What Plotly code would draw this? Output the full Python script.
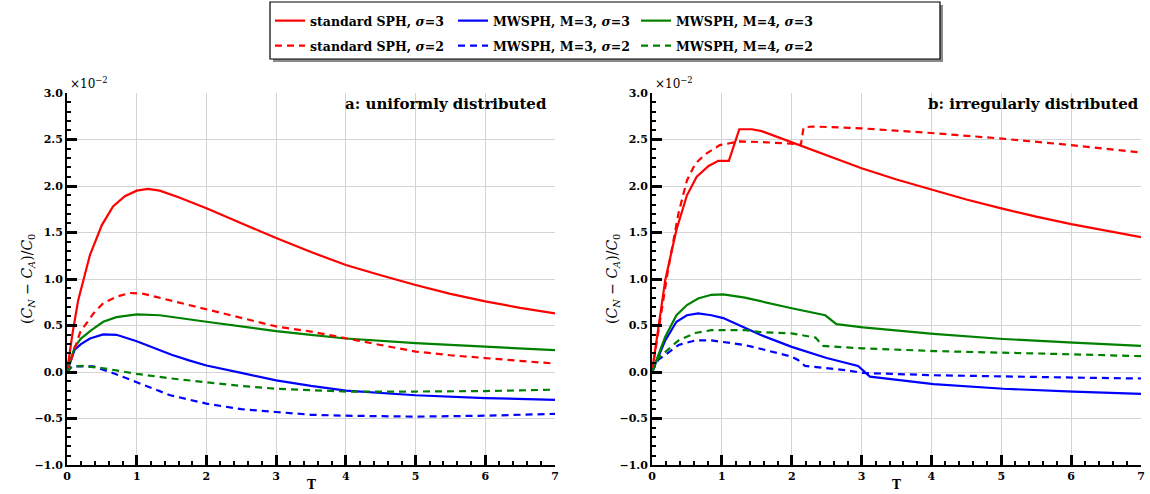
import plotly.graph_objects as go

# ---------------- data (values in units of 1e-2) ----------------
# panel a: uniformly distributed
a_sph3_T = [0, 0.08, 0.16, 0.33, 0.5, 0.66, 0.83, 1.0, 1.16, 1.33, 1.6, 2.0, 2.5, 3.0, 3.5, 4.0, 4.5, 5.0, 5.5, 6.0, 6.5, 7.0]
a_sph3_v = [0, 0.42, 0.77, 1.26, 1.58, 1.78, 1.89, 1.95, 1.97, 1.95, 1.88, 1.76, 1.60, 1.44, 1.29, 1.15, 1.04, 0.935, 0.84, 0.76, 0.69, 0.63]
a_sph2_T = [0, 0.1, 0.19, 0.38, 0.52, 0.71, 0.9, 1.1, 1.48, 2.0, 2.5, 3.0, 3.5, 4.0, 4.5, 5.0, 5.5, 6.0, 6.5, 7.0]
a_sph2_v = [0, 0.24, 0.43, 0.63, 0.74, 0.81, 0.85, 0.84, 0.77, 0.68, 0.58, 0.49, 0.435, 0.36, 0.29, 0.22, 0.18, 0.15, 0.12, 0.09]
a_m3s3_T = [0, 0.11, 0.2, 0.33, 0.52, 0.71, 1.0, 1.25, 1.5, 1.75, 2.0, 2.5, 3.0, 3.5, 4.0, 5.0, 6.0, 7.0]
a_m3s3_v = [0, 0.24, 0.30, 0.36, 0.405, 0.40, 0.33, 0.255, 0.185, 0.125, 0.07, -0.01, -0.09, -0.15, -0.20, -0.25, -0.28, -0.30]
a_m3s2_T = [0, 0.07, 0.38, 0.62, 1.0, 1.48, 2.0, 2.5, 3.0, 3.5, 4.0, 5.0, 6.0, 7.0]
a_m3s2_v = [0, 0.06, 0.06, 0.0, -0.11, -0.25, -0.34, -0.40, -0.43, -0.46, -0.47, -0.48, -0.47, -0.45]
a_m4s3_T = [0, 0.11, 0.2, 0.35, 0.52, 0.71, 1.0, 1.33, 2.0, 2.5, 3.0, 3.5, 4.0, 5.0, 6.0, 7.0]
a_m4s3_v = [0, 0.27, 0.36, 0.45, 0.54, 0.59, 0.62, 0.61, 0.54, 0.49, 0.44, 0.40, 0.36, 0.31, 0.27, 0.235]
a_m4s2_T = [0, 0.07, 0.23, 0.52, 1.0, 1.5, 2.0, 2.5, 3.0, 4.0, 5.0, 6.0, 7.0]
a_m4s2_v = [0, 0.06, 0.065, 0.04, -0.02, -0.07, -0.11, -0.15, -0.18, -0.21, -0.21, -0.205, -0.19]

# panel b: irregularly distributed
b_sph3_T = [0, 0.19, 0.35, 0.5, 0.64, 0.81, 0.95, 1.1, 1.25, 1.43, 1.57, 2.0, 2.5, 3.0, 3.5, 4.0, 4.5, 5.0, 5.5, 6.0, 6.5, 7.0]
b_sph3_v = [0, 0.99, 1.53, 1.90, 2.10, 2.215, 2.27, 2.27, 2.61, 2.61, 2.59, 2.47, 2.33, 2.19, 2.07, 1.96, 1.855, 1.76, 1.67, 1.59, 1.52, 1.45]
b_sph2_T = [0, 0.23, 0.38, 0.5, 0.62, 0.76, 0.97, 1.26, 1.64, 2.09, 2.13, 2.17, 2.3, 3.0, 4.0, 5.0, 6.0, 7.0]
b_sph2_v = [0, 1.10, 1.71, 2.06, 2.24, 2.34, 2.44, 2.48, 2.47, 2.45, 2.44, 2.63, 2.64, 2.62, 2.57, 2.51, 2.44, 2.36]
b_m3s3_T = [0, 0.19, 0.35, 0.5, 0.66, 0.85, 1.02, 1.33, 1.55, 2.0, 2.5, 2.95, 3.12, 4.03, 5.03, 6.03, 7.0]
b_m3s3_v = [0, 0.34, 0.54, 0.61, 0.63, 0.61, 0.58, 0.47, 0.40, 0.27, 0.15, 0.065, -0.05, -0.13, -0.18, -0.21, -0.235]
b_m3s2_T = [0, 0.09, 0.38, 0.62, 0.85, 1.33, 1.55, 2.0, 2.09, 2.19, 2.76, 3.02, 4.03, 5.03, 6.03, 7.0]
b_m3s2_v = [0, 0.13, 0.29, 0.34, 0.34, 0.29, 0.25, 0.165, 0.13, 0.065, 0.02, -0.01, -0.035, -0.05, -0.06, -0.07]
b_m4s3_T = [0, 0.19, 0.35, 0.5, 0.66, 0.85, 1.02, 1.33, 2.0, 2.48, 2.64, 2.76, 3.02, 4.03, 5.03, 6.03, 7.0]
b_m4s3_v = [0, 0.38, 0.61, 0.72, 0.79, 0.83, 0.835, 0.80, 0.685, 0.61, 0.515, 0.505, 0.48, 0.41, 0.355, 0.315, 0.28]
b_m4s2_T = [0, 0.09, 0.38, 0.62, 0.85, 1.33, 1.55, 2.0, 2.34, 2.45, 2.76, 3.02, 4.03, 5.03, 6.03, 7.0]
b_m4s2_v = [0, 0.15, 0.34, 0.42, 0.45, 0.45, 0.43, 0.415, 0.37, 0.28, 0.265, 0.255, 0.225, 0.21, 0.19, 0.17]

series_names = ["standard SPH, <i>σ</i>=3", "MWSPH, M=3, <i>σ</i>=3", "MWSPH, M=4, <i>σ</i>=3",
                "standard SPH, <i>σ</i>=2", "MWSPH, M=3, <i>σ</i>=2", "MWSPH, M=4, <i>σ</i>=2"]
series_colors = ["#ff0000", "#0000ff", "#008000", "#ff0000", "#0000ff", "#008000"]
series_dash = ["solid", "solid", "solid", "dash", "dash", "dash"]
panel_a = [(a_sph3_T, a_sph3_v), (a_m3s3_T, a_m3s3_v), (a_m4s3_T, a_m4s3_v),
           (a_sph2_T, a_sph2_v), (a_m3s2_T, a_m3s2_v), (a_m4s2_T, a_m4s2_v)]
panel_b = [(b_sph3_T, b_sph3_v), (b_m3s3_T, b_m3s3_v), (b_m4s3_T, b_m4s3_v),
           (b_sph2_T, b_sph2_v), (b_m3s2_T, b_m3s2_v), (b_m4s2_T, b_m4s2_v)]
panel_labels = ["a: uniformly distributed", "b: irregularly distributed"]

W, H = 1150, 494
SERIF = "DejaVu Serif"

fig = go.Figure()
for panel, (xa, ya) in zip([panel_a, panel_b], [("x", "y"), ("x2", "y2")]):
    for i, (t, v) in enumerate(panel):
        fig.add_trace(go.Scatter(
            x=t, y=v, mode="lines", xaxis=xa, yaxis=ya,
            name=series_names[i],
            line=dict(color=series_colors[i], width=2.2,
                      dash="7px,5px" if series_dash[i] == "dash" else "solid"),
            showlegend=(xa == "x"),
            legend="legend" if series_dash[i] == "solid" else "legend2",
        ))

def px_x(p):
    return p / W

def px_y(p):
    return 1 - p / H

dom_y = [px_y(465), px_y(93)]
dom_x1 = [px_x(67), px_x(555)]
dom_x2 = [px_x(652), px_x(1141)]

def xaxis(dom, anchor):
    return dict(domain=dom, anchor=anchor, range=[0, 7], dtick=1, tick0=0,
                ticks="inside", ticklen=10, tickwidth=2.5, tickcolor="black",
                showline=True, linecolor="black", linewidth=2, mirror=False,
                showgrid=True, gridcolor="#d4d4d4", gridwidth=1, zeroline=False,
                tickfont=dict(family=SERIF, size=11, color="black", weight="bold"),
                minor=dict(dtick=0.2, ticks="inside", ticklen=4, tickwidth=1.5,
                           tickcolor="black", showgrid=False),
                automargin=False, fixedrange=True)

def yaxis(anchor):
    return dict(domain=dom_y, anchor=anchor, range=[-1, 3], dtick=0.5, tick0=0,
                tickformat=".1f",
                ticks="inside", ticklen=10, tickwidth=2.5, tickcolor="black",
                showline=True, linecolor="black", linewidth=2, mirror=False,
                showgrid=True, gridcolor="#d4d4d4", gridwidth=1, zeroline=False,
                tickfont=dict(family=SERIF, size=11, color="black", weight="bold"),
                minor=dict(dtick=0.1, ticks="inside", ticklen=4, tickwidth=1.5,
                           tickcolor="black", showgrid=False),
                automargin=False, fixedrange=True)

annotations = []
label_right = [px_x(549), px_x(1141)]
for dom, lab, xr in zip([dom_x1, dom_x2], panel_labels, label_right):
    annotations.append(dict(text=lab, xref="paper", yref="paper", x=xr, y=px_y(104),
                            xanchor="right", yanchor="middle", showarrow=False,
                            font=dict(family=SERIF, size=15, color="black", weight="bold")))
    annotations.append(dict(text="×10<sup>−2</sup>", xref="paper", yref="paper", x=dom[0] + 1 / W,
                            y=px_y(93), xanchor="left", yanchor="bottom", showarrow=False,
                            font=dict(family=SERIF, size=12, color="black")))
    annotations.append(dict(text="T", xref="paper", yref="paper", x=(dom[0] + dom[1]) / 2,
                            y=px_y(485), xanchor="center", yanchor="middle", showarrow=False,
                            font=dict(family=SERIF, size=12, color="black", weight="bold")))
    annotations.append(dict(text="(<i>C</i><sub><i>N</i></sub> − <i>C</i><sub><i>A</i></sub>)/<i>C</i><sub>0</sub>",
                            xref="paper", yref="paper", x=dom[0] - 39 / W, y=(dom_y[0] + dom_y[1]) / 2,
                            xanchor="center", yanchor="middle", textangle=-90, showarrow=False,
                            font=dict(family=SERIF, size=14, color="black")))

shapes = [
    dict(type="rect", xref="paper", yref="paper", x0=px_x(273), x1=px_x(943), y0=px_y(62), y1=px_y(5),
         fillcolor="#8a8a8a", line=dict(width=0), layer="above"),
    dict(type="rect", xref="paper", yref="paper", x0=px_x(270), x1=px_x(940), y0=px_y(59), y1=px_y(2),
         fillcolor="white", line=dict(color="black", width=1.2), layer="above"),
]

legend_common = dict(orientation="h", xanchor="left", yanchor="top", bgcolor="rgba(0,0,0,0)",
                     borderwidth=0, entrywidth=138, entrywidthmode="pixels", traceorder="normal",
                     font=dict(family=SERIF, size=12.5, color="black", weight="bold"),
                     itemclick=False, itemdoubleclick=False)

fig.update_layout(
    width=W, height=H, margin=dict(l=0, r=0, t=0, b=0),
    paper_bgcolor="white", plot_bgcolor="white",
    xaxis=xaxis(dom_x1, "y"), yaxis=yaxis("x"),
    xaxis2=xaxis(dom_x2, "y2"), yaxis2=yaxis("x2"),
    annotations=annotations, shapes=shapes,
    legend=dict(x=px_x(270), y=px_y(6), **legend_common),
    legend2=dict(x=px_x(270), y=px_y(31), **legend_common),
    showlegend=True,
)

fig.write_html("out.html")
